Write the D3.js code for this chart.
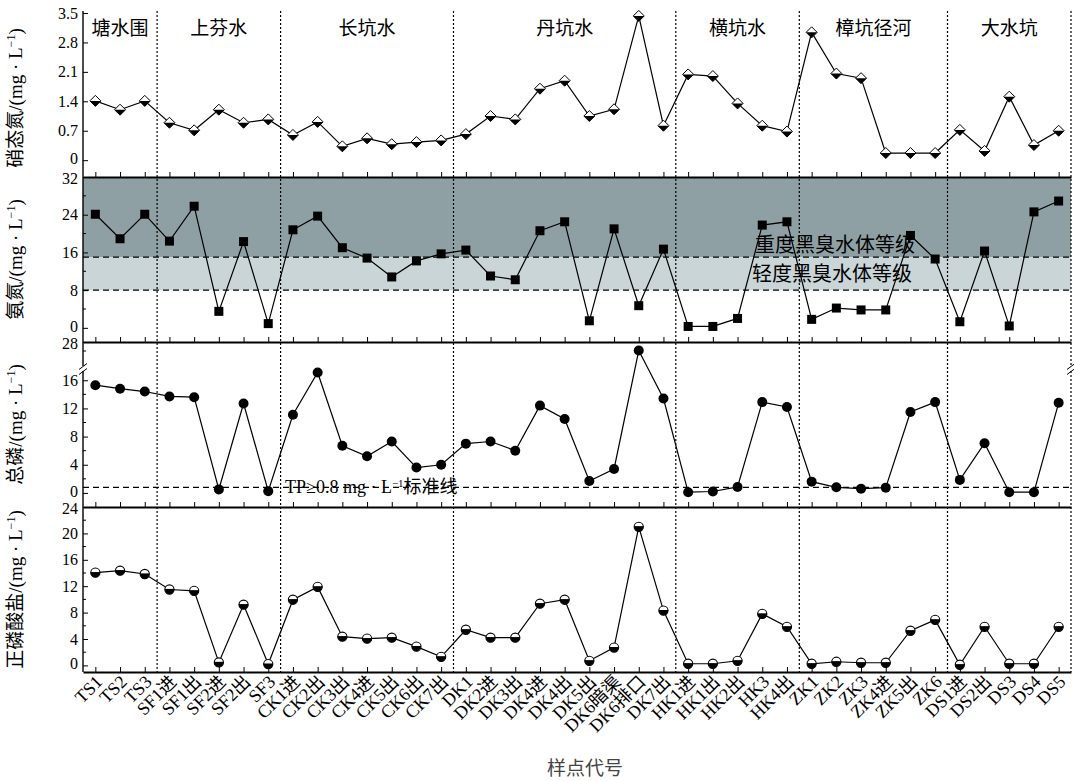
<!DOCTYPE html>
<html>
<head>
<meta charset="utf-8">
<script src="https://cdn.jsdelivr.net/npm/d3@7"></script>
<style>
  body { margin: 0; background: #fff; }
  text { font-family: "Liberation Serif", "Noto Sans CJK SC", serif; fill: #000; }
</style>
</head>
<body>
<svg id="chart" width="1074" height="781"></svg>
<script>
// Sampling sites, in river order
const samples = ["TS1","TS2","TS3",
  "SF1进","SF1出","SF2进","SF2出","SF3",
  "CK1进","CK2出","CK3出","CK4进","CK5出","CK6出","CK7出",
  "DK1","DK2进","DK3出","DK4进","DK4出","DK5出","DK6暗渠","DK6排口","DK7出",
  "HK1进","HK1出","HK2出","HK3","HK4出",
  "ZK1","ZK2","ZK3","ZK4进","ZK5出","ZK6",
  "DS1进","DS2出","DS3","DS4","DS5"];

// River sections and the number of sites in each
const groupNames = ["塘水围","上芬水","长坑水","丹坑水","横坑水","樟坑径河","大水坑"];
const groupSizes = [3, 5, 7, 9, 5, 6, 5];

// Nitrate nitrogen, mg/L
const nitrate = [1.41,1.20,1.41,
  0.89,0.71,1.20,0.89,0.97,
  0.60,0.91,0.33,0.52,0.38,0.43,0.47,
  0.62,1.05,0.97,1.70,1.89,1.05,1.21,3.43,0.82,
  2.04,2.00,1.35,0.82,0.68,
  3.04,2.06,1.95,0.17,0.17,0.17,
  0.72,0.22,1.51,0.36,0.70];

// Ammonia nitrogen, mg/L
const ammonia = [24.1,18.9,24.1,
  18.4,25.8,3.5,18.3,0.9,
  20.8,23.7,17.0,14.8,10.8,14.2,15.7,
  16.5,11.0,10.2,20.6,22.5,1.5,21.0,4.7,16.7,
  0.3,0.3,2.0,21.8,22.5,
  1.8,4.2,3.8,3.8,19.6,14.6,
  1.3,16.3,0.4,24.6,26.9];

// Total phosphorus, mg/L
const totalP = [15.3,14.8,14.4,
  13.7,13.6,0.5,12.7,0.25,
  11.1,17.1,6.7,5.2,7.3,3.6,4.0,
  7.0,7.3,6.0,12.4,10.5,1.7,3.4,26.1,13.4,
  0.1,0.2,0.85,12.9,12.2,
  1.6,0.8,0.6,0.75,11.5,12.9,
  1.85,7.05,0.1,0.1,12.8];

// Orthophosphate, mg/L
const orthoP = [14.05,14.35,13.85,
  11.5,11.3,0.45,9.2,0.2,
  9.95,11.9,4.35,4.05,4.2,2.85,1.3,
  5.4,4.2,4.2,9.35,9.95,0.7,2.7,21.0,8.3,
  0.25,0.25,0.7,7.8,5.85,
  0.25,0.55,0.4,0.4,5.25,6.9,
  0.1,5.85,0.25,0.25,5.85];

// Tick values
const nitrateTicks = [0, 0.7, 1.4, 2.1, 2.8, 3.5];
const ammoniaTicks = [0, 8, 16, 24, 32];
const ammoniaMinor = [4, 12, 20, 28];
const totalPTicks = [0, 4, 8, 12, 16, 28];
const totalPMinor = [2, 6, 10, 14, 26];
const orthoPTicks = [0, 4, 8, 12, 16, 20, 24];
const orthoPMinor = [2, 6, 10, 14, 18, 22];

// Black-odour thresholds for ammonia and the TP standard line
const severeLevel = 15;
const mildLevel = 8;
const tpStandard = 0.8;

const svg = d3.select("#chart");
const left = 83, right = 1071;

const x = d3.scalePoint().domain(samples).range([left, right]).padding(0.5);

const panels = [
  { key: "no3", data: nitrate, y: d3.scaleLinear().domain([-0.4, 3.5]).range([177, 13]),
    ticks: nitrateTicks, minor: [], fmt: d => d === 0 ? "0" : d3.format(".1f")(d),
    top: 11, bottom: 177, title: "硝态氮", marker: "diamond" },
  { key: "nh4", data: ammonia, y: d3.scaleLinear().domain([-3, 32]).range([342, 177]),
    ticks: ammoniaTicks, minor: ammoniaMinor, fmt: d3.format("d"),
    top: 177, bottom: 342, title: "氨氮", marker: "square" },
  { key: "tp", data: totalP, y: d3.scaleLinear().domain([-2, 17.6, 22, 28]).range([507, 369, 369, 342]),
    ticks: totalPTicks, minor: totalPMinor, fmt: d3.format("d"),
    top: 342, bottom: 507, title: "总磷", marker: "circle", breakAt: 369 },
  { key: "po4", data: orthoP, y: d3.scaleLinear().domain([-1, 24]).range([672, 507]),
    ticks: orthoPTicks, minor: orthoPMinor, fmt: d3.format("d"),
    top: 507, bottom: 672, title: "正磷酸盐", marker: "halfcircle" }
];

// Ammonia grade bands
const nh = panels[1].y;
svg.append("rect").attr("x", left).attr("width", right - left)
  .attr("y", nh(32)).attr("height", nh(severeLevel) - nh(32)).attr("fill", "#8fa0a4");
svg.append("rect").attr("x", left).attr("width", right - left)
  .attr("y", nh(severeLevel)).attr("height", nh(mildLevel) - nh(severeLevel)).attr("fill", "#c9d5d7");
[severeLevel, mildLevel].forEach(v => {
  svg.append("line").attr("x1", left).attr("x2", right).attr("y1", nh(v)).attr("y2", nh(v))
    .attr("stroke", "#000").attr("stroke-width", 1.2).attr("stroke-dasharray", "6,4");
});
svg.append("text").attr("x", 835).attr("y", nh(severeLevel) - 5).attr("text-anchor", "middle")
  .attr("font-size", 20).text("重度黑臭水体等级");
svg.append("text").attr("x", 832).attr("y", (nh(severeLevel) + nh(mildLevel)) / 2 + 7).attr("text-anchor", "middle")
  .attr("font-size", 20).text("轻度黑臭水体等级");

// TP standard line
const tpY = panels[2].y(tpStandard);
svg.append("line").attr("x1", left).attr("x2", right).attr("y1", tpY).attr("y2", tpY)
  .attr("stroke", "#000").attr("stroke-width", 1.2).attr("stroke-dasharray", "6,4");
const tpLabel = svg.append("text").attr("x", 285).attr("y", tpY + 6).attr("font-size", 18);
tpLabel.append("tspan").text("TP≥0.8 mg · L");
tpLabel.append("tspan").attr("dy", -6).attr("font-size", 11).text("−1");
tpLabel.append("tspan").attr("dy", 6).text("标准线");

// Section names and dividers
const step = x.step();
let cum = 0;
const bounds = [];
groupSizes.forEach((n, i) => {
  const x0 = left + cum * step;
  cum += n;
  const x1 = left + cum * step;
  bounds.push(x1);
  svg.append("text").attr("x", (x0 + x1) / 2).attr("y", 35).attr("text-anchor", "middle")
    .attr("font-size", 19).text(groupNames[i]);
});
bounds.forEach(bx => {
  svg.append("line").attr("x1", bx).attr("x2", bx).attr("y1", 11).attr("y2", 672)
    .attr("stroke", "#000").attr("stroke-width", 1.2).attr("stroke-dasharray", "2,2");
});

// Panel frames, ticks and data
panels.forEach((p, pi) => {
  const g = svg.append("g");
  // bottom edge with inward ticks
  g.append("g").attr("transform", `translate(0,${p.bottom})`)
    .call(d3.axisBottom(x).tickSize(-5).tickSizeOuter(0).tickFormat(""))
    .call(a => a.select(".domain").attr("stroke-width", 1.8))
    .call(a => a.selectAll(".tick line").attr("stroke-width", 1));

  // left axis, inward ticks
  const ax = g.append("g").attr("transform", `translate(${left},0)`)
    .call(d3.axisLeft(p.y).tickValues(p.ticks).tickSize(-5).tickPadding(5).tickSizeOuter(0).tickFormat(p.fmt));
  ax.select(".domain").remove();
  ax.selectAll(".tick line").attr("stroke-width", 1);
  // labels at the shared panel edges are nudged apart slightly
  const topVal = p.ticks[p.ticks.length - 1];
  ax.selectAll(".tick text")
    .attr("font-size", 16).attr("font-family", "Liberation Serif").attr("fill", "#000")
    .attr("dy", d => d === 0 ? "0.2em" : (d === topVal && pi > 0 ? "0.42em" : "0.32em"));
  g.selectAll(".minor").data(p.minor).join("line")
    .attr("x1", left).attr("x2", left + 3).attr("y1", d => p.y(d)).attr("y2", d => p.y(d))
    .attr("stroke", "#000").attr("stroke-width", 1);
  g.append("line").attr("x1", left).attr("x2", left).attr("y1", p.top).attr("y2", p.bottom)
    .attr("stroke", "#000").attr("stroke-width", 1.4);

  // axis break marks
  if (p.breakAt) {
    [left, right].forEach(bx => {
      g.append("rect").attr("x", bx - 3).attr("y", p.breakAt - 3).attr("width", 6).attr("height", 5).attr("fill", "#fff");
      [-2.5, 2.5].forEach(o => {
        g.append("line").attr("x1", bx - 4).attr("x2", bx + 4)
          .attr("y1", p.breakAt + o + 3).attr("y2", p.breakAt + o - 3)
          .attr("stroke", "#000").attr("stroke-width", 1);
      });
    });
  }

  // y title
  const tx = 22, ty = (p.top + p.bottom) / 2 + (p.key === "no3" ? 4 : 0);
  const t = g.append("text").attr("transform", `translate(${tx},${ty}) rotate(-90)`)
    .attr("text-anchor", "middle").attr("font-size", 19);
  t.append("tspan").text(p.title + "/(mg · L");
  t.append("tspan").attr("dy", -7).attr("font-size", 12).text("−1");
  t.append("tspan").attr("dy", 7).text(")");

  // series line
  const line = d3.line().x((d, i) => x(samples[i])).y(d => p.y(d));
  g.append("path").datum(p.data).attr("d", line).attr("fill", "none")
    .attr("stroke", "#000").attr("stroke-width", 1.2);

  // markers
  const m = g.selectAll(".mk").data(p.data).join("g")
    .attr("transform", (d, i) => `translate(${x(samples[i])},${p.y(d)})`);
  if (p.marker === "diamond") {
    m.append("path").attr("d", "M0,-5.5L5.5,0L0,5.5L-5.5,0Z").attr("fill", "#fff").attr("stroke", "#000").attr("stroke-width", 1);
    m.append("path").attr("d", "M-5.5,0L5.5,0L0,5.5Z").attr("fill", "#000");
  } else if (p.marker === "square") {
    m.append("rect").attr("x", -4.5).attr("y", -4.5).attr("width", 9).attr("height", 9).attr("fill", "#000");
  } else if (p.marker === "circle") {
    m.append("circle").attr("r", 5).attr("fill", "#000");
  } else {
    m.append("circle").attr("r", 4.6).attr("fill", "#fff").attr("stroke", "#000").attr("stroke-width", 1.1);
    m.append("path").attr("d", "M-4.6,0A4.6,4.6 0 0 0 4.6,0Z").attr("fill", "#000");
    m.append("line").attr("x1", -4.6).attr("x2", 4.6).attr("stroke", "#000").attr("stroke-width", 1.2);
  }
});

// Rotated site labels
svg.append("g").selectAll("text").data(samples).join("text")
  .attr("transform", d => `translate(${x(d) + 8},${683}) rotate(-45)`)
  .attr("text-anchor", "end").attr("font-size", 18).text(d => d);

// x title
svg.append("text").attr("x", 585).attr("y", 775).attr("text-anchor", "middle")
  .attr("font-size", 19).style("fill", "#444").text("样点代号");
</script>
</body>
</html>
